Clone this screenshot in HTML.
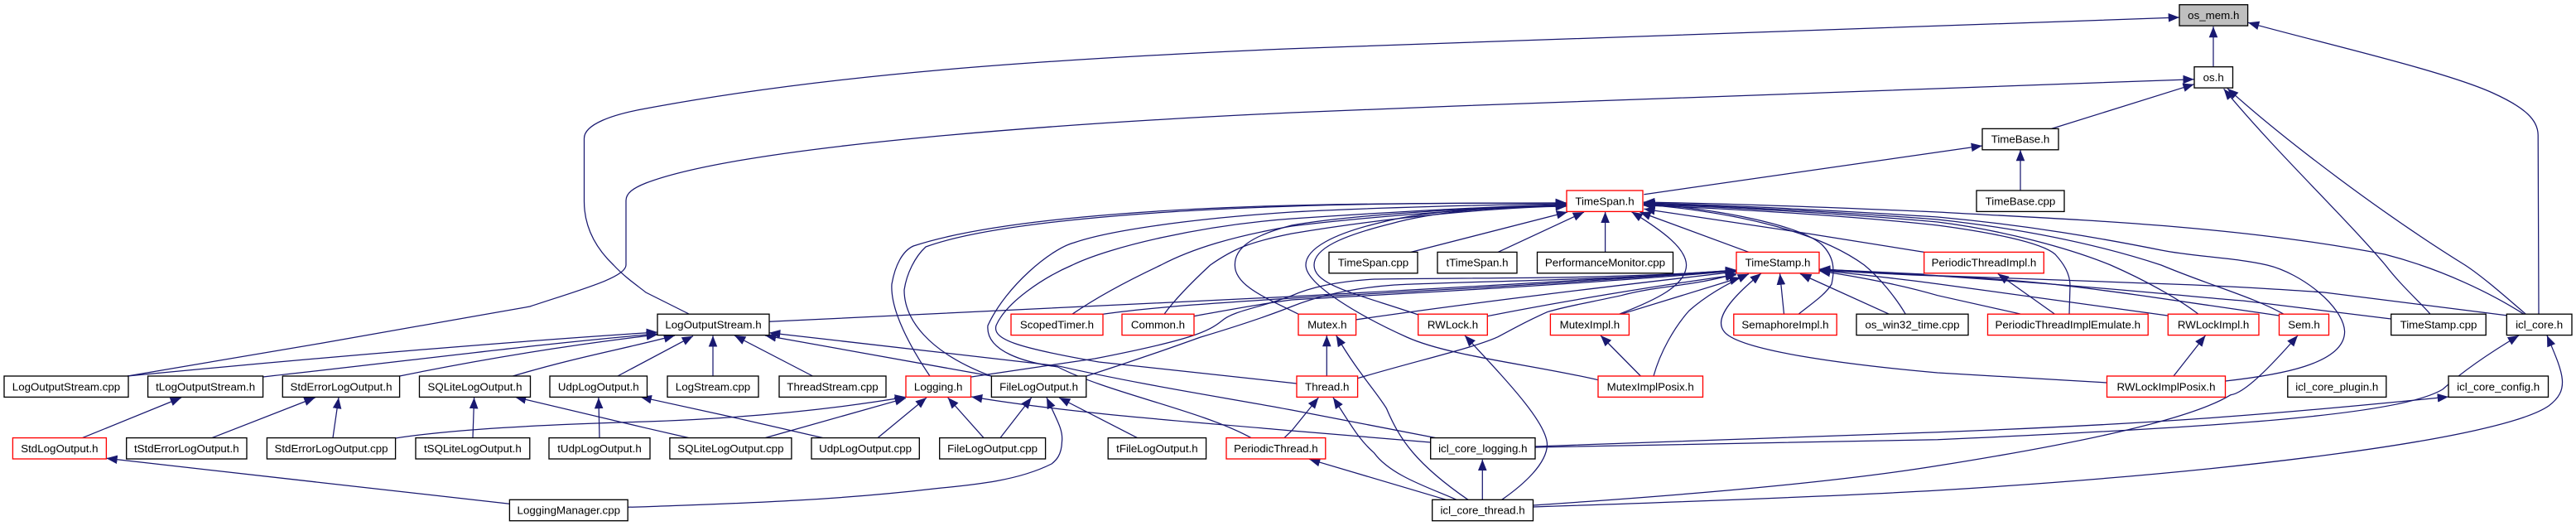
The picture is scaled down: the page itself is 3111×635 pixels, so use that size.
<!DOCTYPE html>
<html><head><meta charset="utf-8"><style>
html,body{margin:0;padding:0;background:#fff}
svg{display:block}
.e path{fill:none;stroke:#191970;stroke-width:1.25;marker-start:url(#a)}
rect{fill:#fff;stroke:#000;stroke-width:1.33}
rect.r{stroke:#f00}
rect.g{fill:#bfbfbf}
text{font-family:"Liberation Sans",sans-serif;font-size:13.33px;text-anchor:middle;fill:#000}
</style></head><body>
<svg width="3111" height="635" viewBox="0 0 3111 635" xmlns="http://www.w3.org/2000/svg">
<defs><marker id="a" markerUnits="userSpaceOnUse" markerWidth="14" markerHeight="11" refX="13.3" refY="5.5" orient="auto-start-reverse"><polygon points="13.3,5.5 0,0.2 0,10.8" fill="#191970"/></marker></defs>
<g class="e">
<path d="M2673,32L2673,80.7"/>
<path d="M2632,21C2400,26 2000,42 1560,58.7C1250,72 1000,90 780,131C740,138 705.5,150 705.5,167L705.5,243C705.5,275 720,300 741,320C755,335 770,345 780,353L832,379"/>
<path d="M2649.7,95.7C2500,99 2000,118 1560,136C1300,148 900,175 780,221C765,227 756,233 756,242L756,320C756,335 700,350 640,370C500,395 300,430 154,454"/>
<path d="M2649.7,101.7L2477.7,155.4"/>
<path d="M2685.6,107.3C2750,185 2830,260 2880.8,320C2900,345 2920,362 2935,379.2"/>
<path d="M2690,106.7C2760,170 2880,260 2977,320C3000,335 3030,362 3050.4,379.2"/>
<path d="M2715,27.3C2800,51 2950,85 3010,112C3050,130 3065,145 3065.2,163L3066,379.2"/>
<path d="M2440,181L2440,230"/>
<path d="M2394,176L1985.4,234.7"/>
<path d="M1893,256L1704,304.4"/>
<path d="M1913,256L1809,304.4"/>
<path d="M1938.6,255.7L1938.6,304.4"/>
<path d="M1980.4,256L2112,304.4"/>
<path d="M1970.4,255.7C2010,280 2036,300 2036.6,320C2036,345 2000,362 1955.5,379.2"/>
<path d="M1892,245C1750,245 1640,246 1560,248C1400,252 1200,265 1103,297C1090,303 1081,320 1077,343C1075,375 1100,420 1123,454"/>
<path d="M1892,245C1750,245 1640,246 1560,249C1400,254 1200,268 1118,298C1105,310 1095,330 1092,350C1092,385 1120,425 1197,454"/>
<path d="M1892,246C1800,247 1650,251 1560,256C1440,264 1340,278 1297,293C1270,300 1215,345 1193,393C1190,425 1240,438 1277.5,443C1340,475 1450,495 1511,528.6"/>
<path d="M1892,247C1800,249 1650,258 1560,264C1450,272 1340,298 1295,320C1260,335 1215,365 1203,393C1198,410 1230,420 1327,437L1566,463"/>
<path d="M1892,248C1800,250 1650,262 1560,273C1490,285 1440,300 1402,320C1370,335 1330,355 1295,379.2"/>
<path d="M1892,249C1800,250 1660,265 1560,282C1510,292 1490,300 1461.6,320C1440,340 1420,360 1406,379.2"/>
<path d="M1892,248C1800,250 1640,258 1560,272C1510,285 1491,300 1491.4,320C1491,345 1530,360 1568,379.2"/>
<path d="M1892,247C1800,250 1730,256 1680,270C1620,285 1587,300 1587,320C1587,345 1640,355 1713,380"/>
<path d="M1892,247C1800,250 1720,255 1670,268C1610,282 1577,300 1577,320C1577,345 1650,385 1699,407C1750,430 1850,440 1930,458.7"/>
<path d="M1985,244C2100,246 2250,252 2340,256C2500,265 2700,272 2880,307C2950,325 3010,355 3048,379.2"/>
<path d="M1985,245C2100,248 2250,256 2340,262C2450,272 2540,288 2610,302C2650,310 2700,311 2738,320C2780,330 2830,370 2831.6,400C2832,440 2750,453 2687.6,460"/>
<path d="M1985,246C2100,249 2250,258 2340,265C2450,277 2540,297 2610,320C2670,345 2720,358 2758,379.2"/>
<path d="M1985,247C2100,250 2250,260 2340,268C2420,278 2500,300 2549,320C2590,338 2630,360 2655,379.2"/>
<path d="M1985,248C2100,252 2250,262 2340,272C2400,280 2465,292 2482,307C2492,318 2500,330 2500,345L2499,379.2"/>
<path d="M1985.4,252.3L2182,281.7L2323.7,304.4"/>
<path d="M1985.4,245.7C2070,252 2170,270 2200,295C2215,310 2216,325 2212,343C2205,355 2190,365 2172,379.2"/>
<path d="M1985.4,246.7C2080,255 2190,275 2251.5,320C2270,335 2290,360 2301.3,379.2"/>
<path d="M2412.8,330.5L2481.6,379.2"/>
<path d="M2663.5,405L2625,454"/>
<path d="M1933,405L1981.4,454"/>
<path d="M1602.3,405L1602.3,454"/>
<path d="M1613.7,405C1640,450 1660,470 1674.4,493C1690,530 1710,560 1773,603.3"/>
<path d="M1769,405C1820,460 1868,510 1868.5,536.7C1868,560 1840,585 1813.7,603.3"/>
<path d="M1610,480C1630,510 1640,530 1659.5,546.7C1680,575 1730,590 1759,603.3"/>
<path d="M1592.3,480L1560,520L1551,528.6"/>
<path d="M1581,554.3L1746.6,603.3"/>
<path d="M1790.3,554.7L1790.3,603.3"/>
<path d="M1173,479C1300,500 1450,510 1560,520L1727.7,534"/>
<path d="M929,401.7L1277.5,441.7C1380,465 1480,480 1560,495L1734,528.6"/>
<path d="M924,405L1197.4,454"/>
<path d="M2957,479C2750,500 2600,512 2340,521.7C2150,528 2000,535 1854,539"/>
<path d="M3042,405C3000,430 2970,452 2950,470C2900,500 2700,515 2340,530.7C2150,535 2000,537 1854,540"/>
<path d="M3076,405C3095,450 3105,470 3078,490C3020,530 2700,570 2340,592C2200,600 2000,607 1851.5,612"/>
<path d="M2775,405C2740,445 2710,475 2694,476.7C2640,510 2480,540 2340,562.3C2200,585 2000,600 1851.5,610"/>
<path d="M794,401C650,410 400,430 154,454"/>
<path d="M794,403C650,415 500,435 317.4,455"/>
<path d="M794,404C700,415 600,430 482.6,454"/>
<path d="M815,405C760,420 700,430 619.4,454"/>
<path d="M837,405.7L746,454"/>
<path d="M861,405.3L861,454"/>
<path d="M887,405L981.5,454"/>
<path d="M219,480L99.5,528.6"/>
<path d="M380.6,480L256,528.6"/>
<path d="M409,480L402,528.6"/>
<path d="M572.6,480L571,528.6"/>
<path d="M722.9,480L724,528.6"/>
<path d="M622,479.3L780,516.7L832,528.6"/>
<path d="M773.6,479.3L882,503L994,528.6"/>
<path d="M1094,479.3C1000,495 900,505 780,509C650,513 550,518 477.6,529"/>
<path d="M1094,480.7L924,528.6"/>
<path d="M1119,480L1060,528.6"/>
<path d="M1144.7,480L1188,528.6"/>
<path d="M1245.7,480L1208,528.6"/>
<path d="M1279,480L1373.5,528.6"/>
<path d="M1264,480C1278,510 1284,520 1282.5,533C1282,550 1275,556 1270,560C1230,580 1180,585 1128,590C1000,605 880,608 780,611.7L758.2,612.3"/>
<path d="M128.4,553.3L615.4,608.3"/>
<path d="M2097,326C1900,340 1700,350 1560,358L929,388.3"/>
<path d="M2097,326C1900,342 1700,352 1560,360C1480,365 1400,370 1332,379.2"/>
<path d="M2097,327C1900,344 1700,354 1560,362C1520,367 1480,375 1441.7,381.7"/>
<path d="M2097,326C1950,338 1750,335 1660,337C1610,340 1580,348 1560,357C1520,372 1490,375 1476,387C1460,400 1440,410 1322,433L1173,455"/>
<path d="M2097,327C1950,338 1760,340 1684,344C1630,348 1590,358 1560,370C1530,382 1500,392 1450,407C1400,425 1340,445 1312,454"/>
<path d="M2097,328C1950,345 1780,365 1637,386"/>
<path d="M2097,331.7C2000,345 1880,365 1796,381.7"/>
<path d="M2097,330C2050,345 2000,345 1958,356.7C1920,365 1890,370 1868.5,376.7C1850,385 1840,390 1809,406.7C1780,420 1709,436 1639.6,456.7"/>
<path d="M2102,335L1958,379.2"/>
<path d="M2112,330.7C2080,345 2057,360 2040,375C2022,395 2005,425 1997,454"/>
<path d="M2127,330C2090,360 2070,385 2082,400C2100,425 2250,442 2340,450L2544.5,462"/>
<path d="M2149.6,330.5L2154.5,379.2"/>
<path d="M2174,330.5L2281.4,379.2"/>
<path d="M2197,327C2250,335 2300,345 2340,356.7L2440.8,379.2"/>
<path d="M2197,326C2250,332 2300,337 2340,342.7L2617.8,381"/>
<path d="M2197,326C2250,329 2300,332 2340,333C2450,338 2500,345 2585.8,356.7L2752.5,381"/>
<path d="M2197,325C2250,328 2300,330 2340,333L2438,340C2550,348 2700,363 2708.7,363L2887.7,385"/>
<path d="M2197,325C2250,328 2300,330 2340,332.7L2586,341.7C2700,345 2807,353 2807,353L3027,380.7"/>
<path d="M2197,325L2323.7,331"/>
</g>
<g>
<rect x="2632" y="5.7" width="82.6" height="25.4" class="g"/>
<rect x="2650" y="80.7" width="46.5" height="25.4"/>
<rect x="2394" y="155.4" width="92" height="25.4"/>
<rect x="2387" y="230" width="106" height="25.4"/>
<rect x="1892" y="230" width="92" height="25.4" class="r"/>
<rect x="1605" y="304.4" width="107" height="25.4"/>
<rect x="1736" y="304.4" width="96" height="25.4"/>
<rect x="1856.5" y="304.4" width="164" height="25.4"/>
<rect x="2097" y="304.4" width="100" height="25.4" class="r"/>
<rect x="2323.7" y="304.4" width="144.6" height="25.4" class="r"/>
<rect x="794" y="379.2" width="135" height="25.4"/>
<rect x="1221" y="379.2" width="111" height="25.4" class="r"/>
<rect x="1355" y="379.2" width="87" height="25.4" class="r"/>
<rect x="1568" y="379.2" width="69.6" height="25.4" class="r"/>
<rect x="1712.7" y="379.2" width="83.6" height="25.4" class="r"/>
<rect x="1872.4" y="379.2" width="95" height="25.4" class="r"/>
<rect x="2093.8" y="379.2" width="124.4" height="25.4" class="r"/>
<rect x="2242" y="379.2" width="135" height="25.4"/>
<rect x="2400.5" y="379.2" width="193.7" height="25.4" class="r"/>
<rect x="2618.3" y="379.2" width="109.7" height="25.4" class="r"/>
<rect x="2752.5" y="379.2" width="60" height="25.4" class="r"/>
<rect x="2887.7" y="379.2" width="114.5" height="25.4"/>
<rect x="3027.3" y="379.2" width="78.7" height="25.4"/>
<rect x="5" y="454" width="150" height="25.4"/>
<rect x="178.6" y="454" width="139" height="25.4"/>
<rect x="341.3" y="454" width="141.3" height="25.4"/>
<rect x="506.5" y="454" width="134" height="25.4"/>
<rect x="664" y="454" width="117.5" height="25.4"/>
<rect x="806" y="454" width="110" height="25.4"/>
<rect x="941" y="454" width="129" height="25.4"/>
<rect x="1094" y="454" width="78.5" height="25.4" class="r"/>
<rect x="1197.4" y="454" width="114.4" height="25.4"/>
<rect x="1566" y="454" width="73.6" height="25.4" class="r"/>
<rect x="1930" y="454" width="126.5" height="25.4" class="r"/>
<rect x="2544.5" y="454" width="143" height="25.4" class="r"/>
<rect x="2762.8" y="454" width="119" height="25.4"/>
<rect x="2957" y="454" width="120.5" height="25.4"/>
<rect x="15.4" y="528.6" width="113" height="25.4" class="r"/>
<rect x="152.7" y="528.6" width="145.3" height="25.4"/>
<rect x="322.4" y="528.6" width="155.2" height="25.4"/>
<rect x="502" y="528.6" width="137.8" height="25.4"/>
<rect x="663" y="528.6" width="122" height="25.4"/>
<rect x="808.9" y="528.6" width="147" height="25.4"/>
<rect x="980" y="528.6" width="130.3" height="25.4"/>
<rect x="1134.7" y="528.6" width="127.9" height="25.4"/>
<rect x="1338.2" y="528.6" width="118.4" height="25.4"/>
<rect x="1481" y="528.6" width="119.8" height="25.4" class="r"/>
<rect x="1727.7" y="528.6" width="126.3" height="25.4"/>
<rect x="615.4" y="603.3" width="142.8" height="25.4"/>
<rect x="1729.7" y="603.3" width="121.8" height="25.4"/>
</g>
<g>
<text x="2673.3" y="23">os_mem.h</text>
<text x="2673.2" y="98">os.h</text>
<text x="2440" y="172.7">TimeBase.h</text>
<text x="2440" y="247.3">TimeBase.cpp</text>
<text x="1938" y="247.3">TimeSpan.h</text>
<text x="1658.5" y="321.7">TimeSpan.cpp</text>
<text x="1784" y="321.7">tTimeSpan.h</text>
<text x="1938.5" y="321.7">PerformanceMonitor.cpp</text>
<text x="2147" y="321.7">TimeStamp.h</text>
<text x="2396" y="321.7">PeriodicThreadImpl.h</text>
<text x="861.5" y="396.5">LogOutputStream.h</text>
<text x="1276.5" y="396.5">ScopedTimer.h</text>
<text x="1398.5" y="396.5">Common.h</text>
<text x="1602.8" y="396.5">Mutex.h</text>
<text x="1754.5" y="396.5">RWLock.h</text>
<text x="1919.9" y="396.5">MutexImpl.h</text>
<text x="2156" y="396.5">SemaphoreImpl.h</text>
<text x="2309.5" y="396.5">os_win32_time.cpp</text>
<text x="2497.3" y="396.5">PeriodicThreadImplEmulate.h</text>
<text x="2673.1" y="396.5">RWLockImpl.h</text>
<text x="2782.5" y="396.5">Sem.h</text>
<text x="2945" y="396.5">TimeStamp.cpp</text>
<text x="3066.6" y="396.5">icl_core.h</text>
<text x="80" y="471.3">LogOutputStream.cpp</text>
<text x="248.1" y="471.3">tLogOutputStream.h</text>
<text x="412" y="471.3">StdErrorLogOutput.h</text>
<text x="573.5" y="471.3">SQLiteLogOutput.h</text>
<text x="722.8" y="471.3">UdpLogOutput.h</text>
<text x="861" y="471.3">LogStream.cpp</text>
<text x="1005.5" y="471.3">ThreadStream.cpp</text>
<text x="1133.2" y="471.3">Logging.h</text>
<text x="1254.6" y="471.3">FileLogOutput.h</text>
<text x="1602.8" y="471.3">Thread.h</text>
<text x="1993.2" y="471.3">MutexImplPosix.h</text>
<text x="2616" y="471.3">RWLockImplPosix.h</text>
<text x="2822.3" y="471.3">icl_core_plugin.h</text>
<text x="3017.2" y="471.3">icl_core_config.h</text>
<text x="71.9" y="545.9">StdLogOutput.h</text>
<text x="225.3" y="545.9">tStdErrorLogOutput.h</text>
<text x="400" y="545.9">StdErrorLogOutput.cpp</text>
<text x="570.9" y="545.9">tSQLiteLogOutput.h</text>
<text x="724" y="545.9">tUdpLogOutput.h</text>
<text x="882.4" y="545.9">SQLiteLogOutput.cpp</text>
<text x="1045.1" y="545.9">UdpLogOutput.cpp</text>
<text x="1198.6" y="545.9">FileLogOutput.cpp</text>
<text x="1397.4" y="545.9">tFileLogOutput.h</text>
<text x="1540.9" y="545.9">PeriodicThread.h</text>
<text x="1790.8" y="545.9">icl_core_logging.h</text>
<text x="686.8" y="620.6">LoggingManager.cpp</text>
<text x="1790.6" y="620.6">icl_core_thread.h</text>
</g>
</svg>
</body></html>
